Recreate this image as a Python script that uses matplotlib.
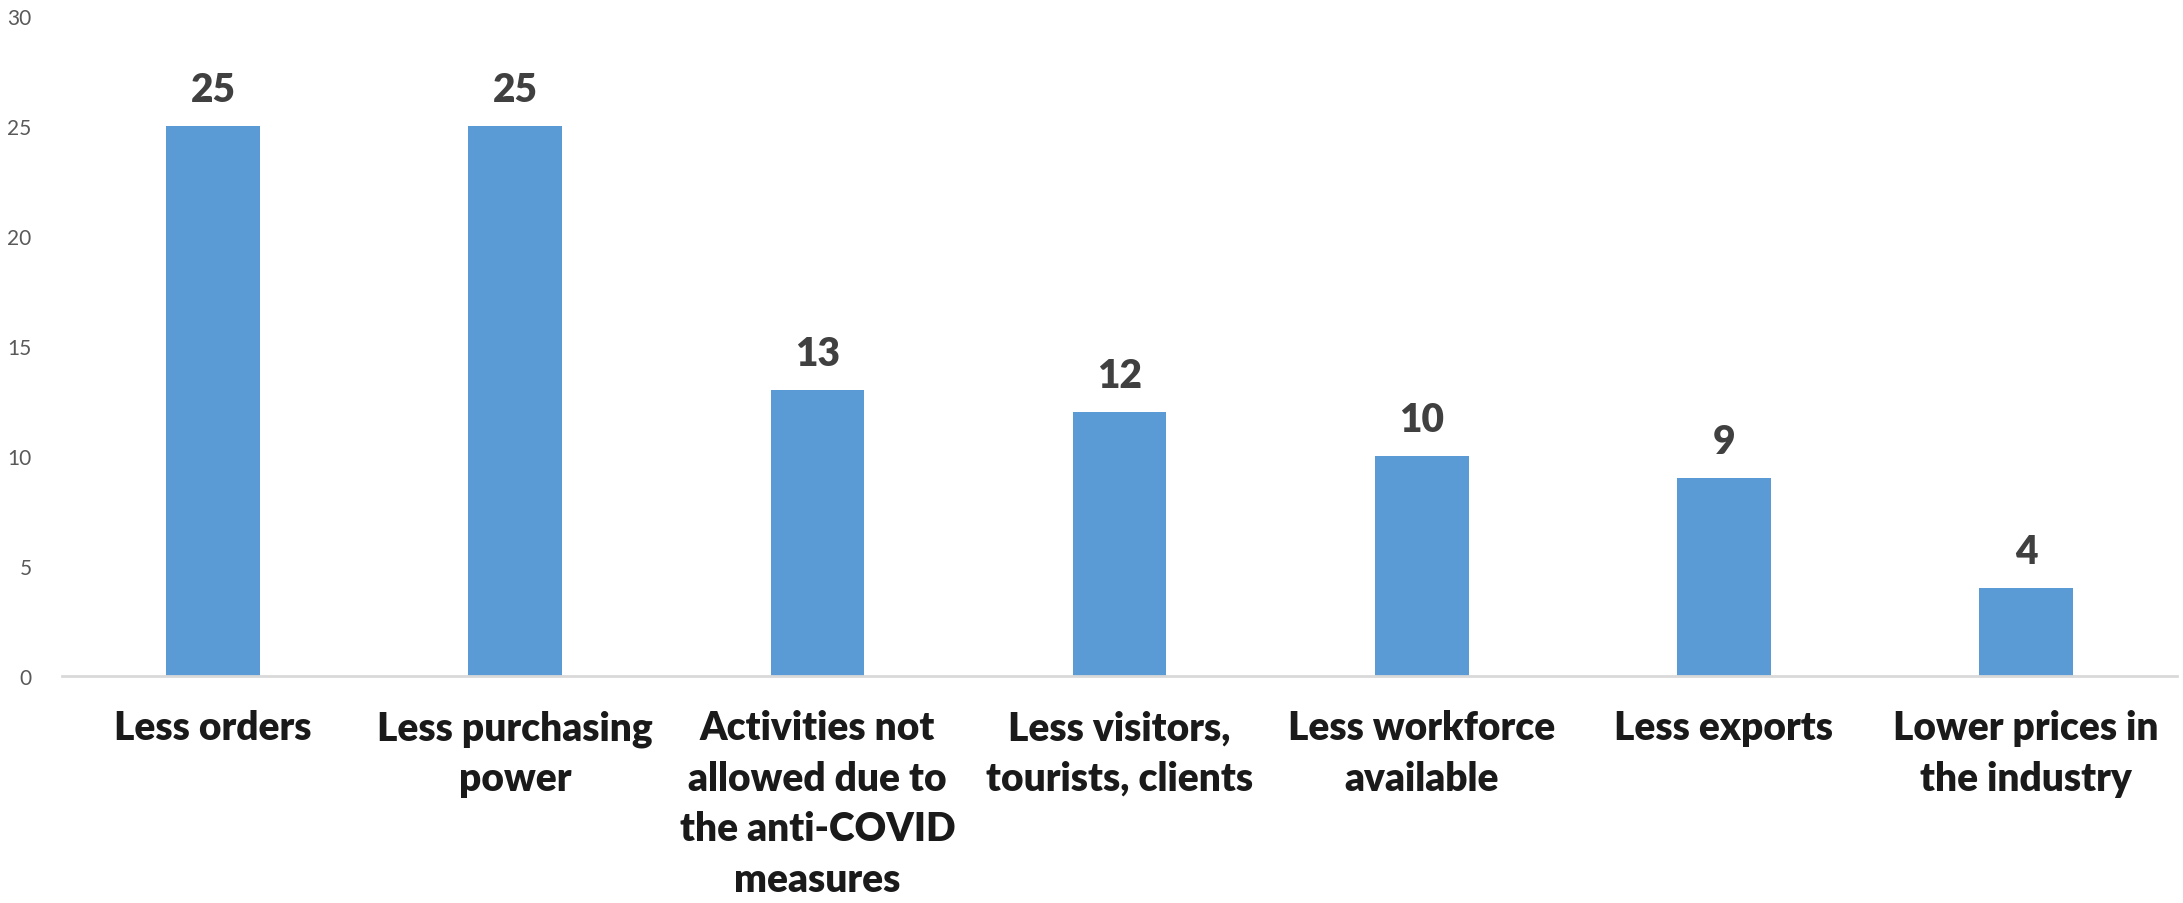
import matplotlib
matplotlib.use('Agg')
import matplotlib.pyplot as plt

categories = ["Less orders", "Less purchasing\npower", "Activities not\nallowed due to\nthe anti-COVID\nmeasures",
              "Less visitors,\ntourists, clients", "Less workforce\navailable", "Less exports",
              "Lower prices in\nthe industry"]
values = [25, 25, 13, 12, 10, 9, 4]
yticks = [0, 5, 10, 15, 20, 25, 30]

plt.rcParams['font.family'] = ['Lato', 'DejaVu Sans']

fig = plt.figure(figsize=(21.83, 9.04), dpi=100)
ax = fig.add_axes([0.0284, 0.2511, 0.9689, 0.7301])

x = list(range(len(categories)))
ax.bar(x, values, width=0.31, color='#5B9BD5', zorder=2)
for xi, v in zip(x, values):
    ax.annotate(str(v), (xi, v), xytext=(0, 13), textcoords='offset points',
                ha='center', va='bottom', fontsize=28, fontweight='heavy', color='#404040')

ax.set_xlim(-0.5, len(categories) - 0.5)
ax.set_ylim(0, 30)
ax.set_yticks(yticks)
ax.tick_params(axis='y', length=0, labelsize=15, labelcolor='#595959', pad=22)
ax.set_xticks(x)
ax.set_xticklabels(categories, fontsize=28, fontweight='heavy', color='#1a1a1a', linespacing=1.45)
ax.tick_params(axis='x', length=0, pad=24)

for s in ['top', 'right', 'left']:
    ax.spines[s].set_visible(False)
ax.spines['bottom'].set_color('#D9D9D9')
ax.spines['bottom'].set_linewidth(2)

fig.savefig('out.png', dpi=100)
